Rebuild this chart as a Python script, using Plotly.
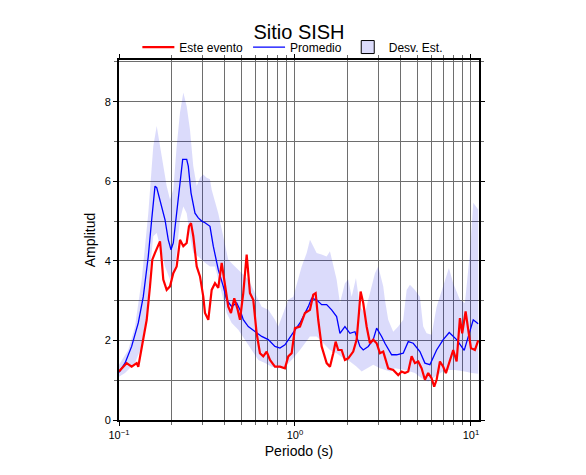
import plotly.graph_objects as go

# ---- data (period in s, amplitude) ----
period_mean = [0.100, 0.1082, 0.118, 0.1287, 0.1374, 0.1467, 0.1534, 0.1602, 0.1638, 0.171,
               0.1825, 0.1906, 0.1975, 0.2035, 0.2127, 0.2222, 0.2301, 0.2425, 0.2476, 0.2566,
               0.2703, 0.2822, 0.2951, 0.3081, 0.3289, 0.3434, 0.3666, 0.3914, 0.4092, 0.4368,
               0.4665, 0.4870, 0.5085, 0.5429, 0.5926, 0.6470, 0.7054, 0.7697, 0.8218, 0.8773,
               0.9579, 1.068, 1.190, 1.244, 1.328, 1.418, 1.514, 1.616, 1.725, 1.802,
               1.923, 2.054, 2.193, 2.341, 2.444, 2.609, 2.785, 2.912, 3.109, 3.246,
               3.544, 3.783, 4.124, 4.404, 4.702, 5.131, 5.478, 5.848, 6.384, 6.961,
               7.529, 8.296, 9.161, 10.31, 11.00]
amp_mean = [1.20, 1.43, 1.85, 2.44, 3.10, 4.11, 5.04, 5.88, 5.84, 5.50,
            5.04, 4.53, 4.28, 4.45, 5.20, 6.05, 6.55, 6.55, 6.38, 5.71,
            5.20, 5.08, 5.00, 4.96, 4.87, 4.37, 3.78, 3.36, 3.02, 2.85,
            2.94, 2.77, 2.52, 2.35, 2.22, 2.10, 2.02, 1.85, 1.81, 1.89,
            2.14, 2.44, 2.85, 3.06, 3.02, 2.90, 2.90, 2.77, 2.60, 2.18,
            2.35, 2.18, 2.22, 1.85, 1.76, 1.85, 2.02, 2.31, 2.10, 1.93,
            1.64, 1.64, 1.68, 1.97, 1.93, 1.72, 1.43, 1.39, 1.76, 2.02,
            2.20, 2.02, 1.75, 2.52, 2.42]

period_event = [0.100, 0.1106, 0.118, 0.1260, 0.1287, 0.1346, 0.1437, 0.1500, 0.1546, 0.1602,
                0.1660, 0.171, 0.1748, 0.1785, 0.1866, 0.1949, 0.2035, 0.2127, 0.2222, 0.2320,
                0.2425, 0.2498, 0.2566, 0.2644, 0.2764, 0.2886, 0.3013, 0.3081, 0.3218, 0.3363,
                0.3512, 0.3666, 0.3834, 0.3967, 0.4178, 0.4329, 0.4520, 0.4725, 0.4870, 0.5085,
                0.5316, 0.5550, 0.5796, 0.6058, 0.6325, 0.6605, 0.6906, 0.7211, 0.7697, 0.8218,
                0.8773, 0.9161, 0.9579, 1.000, 1.068, 1.140, 1.217, 1.271, 1.311, 1.356,
                1.418, 1.514, 1.581, 1.651, 1.703, 1.762, 1.842, 1.923, 2.008, 2.144,
                2.242, 2.310, 2.362, 2.444, 2.555, 2.668, 2.785, 2.912, 3.041, 3.175,
                3.319, 3.389, 3.618, 3.863, 4.039, 4.217, 4.404, 4.604, 4.806, 5.019,
                5.247, 5.478, 5.720, 5.979, 6.186, 6.384, 6.668, 6.961, 7.211, 7.598,
                7.933, 8.296, 8.660, 8.926, 9.331, 9.654, 10.00, 10.54, 11.00]
amp_event = [1.22, 1.43, 1.34, 1.43, 1.34, 1.85, 2.52, 3.36, 4.03, 4.20,
             4.37, 4.49, 4.03, 3.53, 3.27, 3.36, 3.69, 3.86, 4.53, 4.37,
             4.45, 4.87, 4.95, 4.62, 3.86, 3.61, 3.10, 2.69, 2.52, 3.27,
             3.44, 3.32, 3.95, 3.53, 2.85, 2.69, 3.06, 2.77, 2.52, 3.19,
             4.16, 3.19, 3.02, 2.18, 1.68, 1.60, 1.72, 1.51, 1.34, 1.34,
             1.30, 1.60, 1.68, 2.31, 2.35, 2.69, 2.77, 3.15, 3.19, 2.52,
             1.85, 1.43, 1.34, 1.68, 1.97, 1.76, 1.76, 1.51, 1.55, 1.72,
             2.02, 2.69, 3.23, 2.94, 2.35, 1.93, 2.02, 1.93, 1.68, 1.72,
             1.47, 1.30, 1.26, 1.13, 1.22, 1.18, 1.22, 1.60, 1.43, 1.47,
             1.30, 1.01, 1.18, 1.05, 0.84, 1.01, 1.47, 1.34, 1.18, 1.51,
             1.76, 1.47, 2.56, 2.18, 2.73, 2.27, 1.81, 1.76, 2.00]

period_upper = [0.100, 0.1129, 0.1233, 0.1346, 0.1467, 0.1566, 0.1638, 0.171, 0.1785, 0.1866,
                0.1949, 0.2035, 0.2127, 0.2222, 0.2320, 0.2425, 0.2531, 0.2644, 0.2764, 0.2886,
                0.3013, 0.3150, 0.3289, 0.3363, 0.3666, 0.3914, 0.4178, 0.4560, 0.4980, 0.5429,
                0.5926, 0.6470, 0.7054, 0.7697, 0.8036, 0.8580, 0.9161, 0.9779, 1.092, 1.166,
                1.217, 1.271, 1.328, 1.418, 1.514, 1.581, 1.651, 1.725, 1.802, 1.923,
                2.008, 2.100, 2.222, 2.341, 2.498, 2.668, 2.848, 2.974, 3.175, 3.246,
                3.389, 3.618, 3.863, 4.124, 4.312, 4.502, 4.806, 5.131, 5.358, 5.601,
                5.979, 6.384, 6.961, 7.499, 7.933, 8.660, 9.246, 9.870, 10.31, 11.00]
amp_upper = [1.39, 1.76, 2.35, 3.53, 5.20, 6.88, 7.39, 6.88, 6.38, 5.88,
             5.54, 5.79, 6.88, 7.73, 8.23, 7.89, 7.30, 6.38, 5.88, 6.09,
             6.17, 6.09, 6.05, 5.79, 5.20, 4.62, 4.03, 3.86, 3.69, 3.53,
             3.19, 2.85, 2.77, 2.52, 2.35, 2.69, 3.02, 3.10, 3.86, 4.20,
             4.53, 4.37, 4.20, 4.16, 4.11, 4.24, 3.86, 3.53, 2.94, 3.44,
             3.53, 3.10, 3.57, 2.85, 2.69, 3.19, 3.69, 3.86, 3.36, 3.02,
             2.52, 2.22, 2.35, 2.52, 3.27, 3.40, 3.27, 3.10, 2.35, 2.18,
             2.14, 2.85, 3.36, 3.82, 3.44, 3.02, 2.94, 4.20, 5.46, 5.29]

period_lower = [0.100, 0.1082, 0.1233, 0.1346, 0.1437, 0.1500, 0.1566, 0.1638, 0.171, 0.1825,
                0.1949, 0.2035, 0.2127, 0.2222, 0.2320, 0.2425, 0.2531, 0.2644, 0.2822, 0.3081,
                0.3289, 0.3512, 0.3834, 0.4092, 0.4368, 0.4763, 0.5200, 0.5675, 0.6186, 0.6754,
                0.7373, 0.8036, 0.8773, 0.9579, 1.068, 1.115, 1.217, 1.328, 1.448, 1.581,
                1.725, 1.881, 2.054, 2.242, 2.393, 2.555, 2.785, 3.041, 3.466, 3.700,
                4.217, 4.806, 5.247, 5.720, 6.244, 7.117, 8.112, 9.246, 10.09, 11.00]
amp_lower = [1.09, 1.18, 1.43, 1.85, 2.69, 3.78, 4.62, 4.70, 4.37, 3.86,
             3.53, 3.61, 4.20, 5.04, 5.37, 5.20, 4.62, 4.20, 4.11, 3.95,
             3.86, 3.86, 3.19, 2.69, 2.44, 2.27, 2.02, 1.76, 1.51, 1.43,
             1.34, 1.30, 1.34, 1.51, 1.76, 1.85, 2.10, 2.10, 1.93, 1.76,
             1.68, 1.55, 1.47, 1.34, 1.22, 1.30, 1.39, 1.30, 1.22, 1.30,
             1.26, 1.18, 1.05, 0.97, 1.09, 1.26, 1.26, 1.22, 1.18, 1.16]

title_text = "Sitio SISH"
legend_names = ["Este evento", "Promedio", "Desv. Est."]
x_tick_values = [0.1, 1, 10]
x_tick_text = ["10<sup>\u22121</sup>", "10<sup>0</sup>", "10<sup>1</sup>"]
x_minor_values = [m * d for d in (0.1, 1) for m in range(2, 10)]

FONT = "Liberation Sans, Arial, Helvetica, sans-serif"
band_fill = "rgba(0,0,230,0.14)"
GRID = "#6e6e6e"

fig = go.Figure()

# standard deviation band
fig.add_trace(go.Scatter(
    x=period_upper + period_lower[::-1],
    y=amp_upper + amp_lower[::-1],
    fill="toself", fillcolor=band_fill, mode="lines",
    line=dict(width=0, color=band_fill), showlegend=False, hoverinfo="skip"))

fig.add_trace(go.Scatter(
    x=period_mean, y=amp_mean, mode="lines", name=legend_names[1],
    line=dict(color="#0000ff", width=1.3), legendrank=2))

fig.add_trace(go.Scatter(
    x=period_event, y=amp_event, mode="lines", name=legend_names[0],
    line=dict(color="#ff0000", width=2.2), legendrank=1))

fig.add_trace(go.Scatter(
    x=[None], y=[None], mode="markers", name=legend_names[2],
    marker=dict(symbol="square", size=13, color="#dcdcfb",
                line=dict(color="black", width=1)), legendrank=3))

fig.update_layout(
    width=586, height=475,
    margin=dict(l=111, r=115, t=52, b=63, autoexpand=False),
    paper_bgcolor="white", plot_bgcolor="white",
    font=dict(family=FONT, color="black", size=11),
    title=dict(text=title_text, font=dict(size=20, family=FONT),
               x=0.5, xref="paper", xanchor="center",
               y=1 - 23.5 / 475, yref="container", yanchor="middle"),
    legend=dict(orientation="h", x=0.051, xanchor="left",
                y=1.036, yanchor="middle", font=dict(size=12, family=FONT),
                bgcolor="rgba(0,0,0,0)", itemwidth=32),
    showlegend=True,
)

fig.update_xaxes(
    type="log", range=[-1, 1.046], automargin=False,
    tickmode="array", tickvals=x_tick_values, ticktext=x_tick_text,
    ticks="outside", ticklen=4, tickwidth=1, tickcolor="black",
    showgrid=True, gridcolor=GRID, gridwidth=1,
    minor=dict(tickmode="array", tickvals=x_minor_values, showgrid=True,
               gridcolor=GRID, gridwidth=1, ticks="outside", ticklen=3,
               tickcolor=GRID),
    showline=True, linecolor="black", linewidth=2, mirror="allticks",
    zeroline=False,
    title=dict(text="Periodo (s)", font=dict(size=14, family=FONT), standoff=6),
    tickfont=dict(size=11, family=FONT),
)

fig.update_yaxes(
    range=[0, 9.05], dtick=2, tick0=0, automargin=False,
    ticks="outside", ticklen=4, tickwidth=1, tickcolor="black",
    showgrid=True, gridcolor=GRID, gridwidth=1,
    minor=dict(dtick=1, showgrid=True, gridcolor=GRID, gridwidth=1,
               ticks="outside", ticklen=3, tickcolor=GRID),
    showline=True, linecolor="black", linewidth=2, mirror="allticks",
    zeroline=False,
    title=dict(text="Amplitud", font=dict(size=14, family=FONT), standoff=6),
    tickfont=dict(size=11, family=FONT),
)

fig.write_html("out.html")
